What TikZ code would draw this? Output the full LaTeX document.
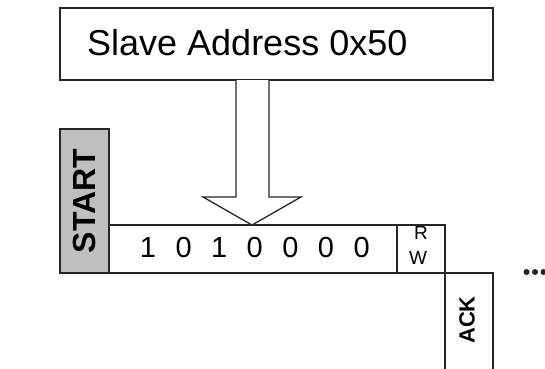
\documentclass[tikz,border=0pt]{standalone}
\usepackage{fontspec}
\setmainfont{Liberation Sans}
\begin{document}
\begin{tikzpicture}[x=1pt,y=-1pt,
  frame/.style={draw=black!85,line width=1.5pt,inner sep=0pt,outer sep=0pt},
  bitlabel/.style={font=\fontsize{29}{29}\selectfont,inner sep=0pt},
  rwlabel/.style={font=\fontsize{19}{19}\selectfont,inner sep=0pt},
  vlabel/.style={font=\bfseries\fontsize{#1}{#1}\selectfont,rotate=90,inner sep=0pt}]
\clip (0,0) rectangle (545,368);
\useasboundingbox (0,0) rectangle (545,368);

% address box
\node[frame,minimum width=433pt,minimum height=72pt] (addr) at (276.5,44) {};
\node[anchor=base west,inner sep=0pt,font=\fontsize{36}{36}\selectfont] (addrtxt) at (87,55) {Slave Address 0x50};

% start bit
\node[frame,fill=black!25,minimum width=49pt,minimum height=144pt] (start) at (84.5,201) {};
\node[vlabel=32] (starttxt) at (start.center) {START};

% address bits
\node[frame,minimum width=288pt,minimum height=48pt] (bits) at (253,249) {};
\foreach \d [count=\i from 0] in {1,0,1,0,0,0,0}
  \node[bitlabel] (b\i) at (148+35.6*\i,248) {\d};

% read/write bit
\node[frame,minimum width=48pt,minimum height=48pt] (rw) at (421,249) {};
\node[rwlabel] (rtxt) at (421,233) {R};
\node[rwlabel] (wtxt) at (418,258) {W};

% acknowledge bit (continues below)
\node[frame,minimum width=48pt,minimum height=110pt] (ack) at (469,328) {};
\node[vlabel=22] (acktxt) at (467,320) {ACK};

% hollow arrow from the address into the bits
\draw[black!85,line width=1.3pt,fill=white]
  (addr.south -| 236,0) -- (236,197) -- (203,197) -- (bits.north -| 252,0)
  -- (301,197) -- (269,197) -- (addr.south -| 269,0);

% continuation dots
\foreach \x [count=\i] in {526.5,535,543.5}
  \fill[black!85] (\x,272) circle[radius=3pt] coordinate (dot\i);
\end{tikzpicture}
\end{document}
